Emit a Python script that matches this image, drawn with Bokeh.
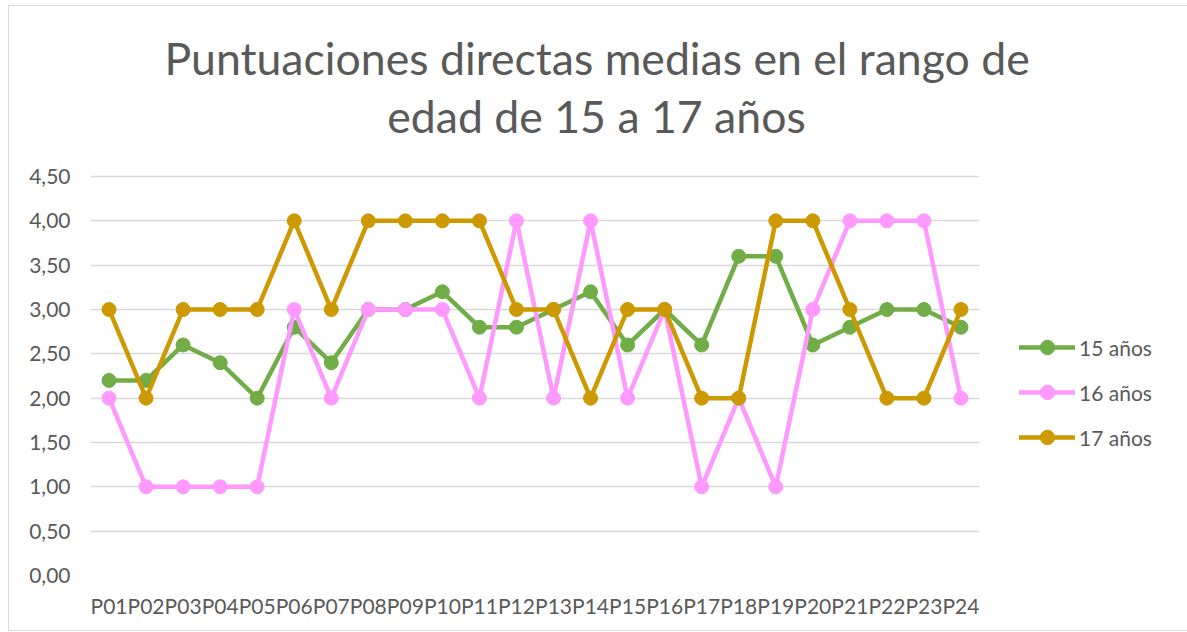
from bokeh.plotting import figure
from bokeh.models import (FactorRange, Range1d, FixedTicker, CustomJSTickFormatter,
                          Title, Legend, Label)
from bokeh.embed import file_html
from bokeh.resources import INLINE

categories = ["P%02d" % i for i in range(1, 25)]
s15 = [2.2, 2.2, 2.6, 2.4, 2.0, 2.8, 2.4, 3.0, 3.0, 3.2, 2.8, 2.8,
       3.0, 3.2, 2.6, 3.0, 2.6, 3.6, 3.6, 2.6, 2.8, 3.0, 3.0, 2.8]
s16 = [2, 1, 1, 1, 1, 3, 2, 3, 3, 3, 2, 4,
       2, 4, 2, 3, 1, 2, 1, 3, 4, 4, 4, 2]
s17 = [3, 2, 3, 3, 3, 4, 3, 4, 4, 4, 4, 3,
       3, 2, 3, 3, 2, 2, 4, 4, 3, 2, 2, 3]
series_names = ["15 años", "16 años", "17 años"]
series_colors = ["#70AD47", "#FF99FF", "#CC9900"]
y_ticks = [0, 0.5, 1, 1.5, 2, 2.5, 3, 3.5, 4, 4.5]
title_lines = ["Puntuaciones directas medias en el rango de", "edad de 15 a 17 años"]

FONT = "Lato"
TXT = "#595959"

# frame extends above the 4,50 gridline to leave room for the 2nd title line
FRAME_H = 492
PLOT_H = 399
y_top = y_ticks[-1] * FRAME_H / PLOT_H

p = figure(frame_width=889, frame_height=FRAME_H, x_range=FactorRange(*categories),
           y_range=Range1d(0, y_top), output_backend="svg", toolbar_location=None,
           min_border_left=81, min_border_right=206, min_border_top=77,
           min_border_bottom=55)
p.outline_line_color = None
p.background_fill_color = "white"
p.border_fill_color = "white"
p.styles = {"border": "1px solid #D9D9D9", "margin-left": "8px", "margin-top": "5px"}

p.xgrid.grid_line_color = None
p.ygrid.grid_line_color = "#D9D9D9"
p.ygrid.grid_line_width = 1.5
p.yaxis.ticker = FixedTicker(ticks=y_ticks)
p.yaxis.formatter = CustomJSTickFormatter(code="return tick.toFixed(2).replace('.', ',');")

for ax in (p.xaxis[0], p.yaxis[0]):
    ax.axis_line_color = None
    ax.major_tick_line_color = None
    ax.minor_tick_line_color = None
    ax.major_tick_out = 0
    ax.major_tick_in = 0
    ax.major_label_text_font = FONT
    ax.major_label_text_font_size = "21px"
    ax.major_label_text_color = TXT
p.yaxis.major_label_standoff = 20
p.xaxis.major_label_standoff = 17

items = []
for name, vals, col in zip(series_names, [s15, s16, s17], series_colors):
    r1 = p.line(categories, vals, line_color=col, line_width=4.5, line_join="round", line_cap="round")
    r2 = p.scatter(categories, vals, size=14, fill_color=col, line_color=col)
    items.append((name, [r1, r2]))

legend = Legend(items=items, location=(40, 120), orientation="vertical",
                glyph_width=56, glyph_height=36, label_height=36, spacing=9,
                padding=0, margin=0, label_standoff=4,
                border_line_color=None, background_fill_alpha=0,
                label_text_font=FONT, label_text_font_size="21px", label_text_color=TXT)
p.add_layout(legend, "right")

p.add_layout(Title(text=title_lines[0], align="left", offset=74, standoff=0, text_font=FONT,
                   text_font_size="44.6px", text_font_style="normal",
                   text_color=TXT), "above")
p.add_layout(Label(x=506, y=460, x_units="screen", y_units="screen", text=title_lines[1],
                   text_align="center", text_baseline="alphabetic",
                   text_font=FONT, text_font_size="44.6px", text_color=TXT))

open("out.html", "w").write(file_html(p, INLINE))
